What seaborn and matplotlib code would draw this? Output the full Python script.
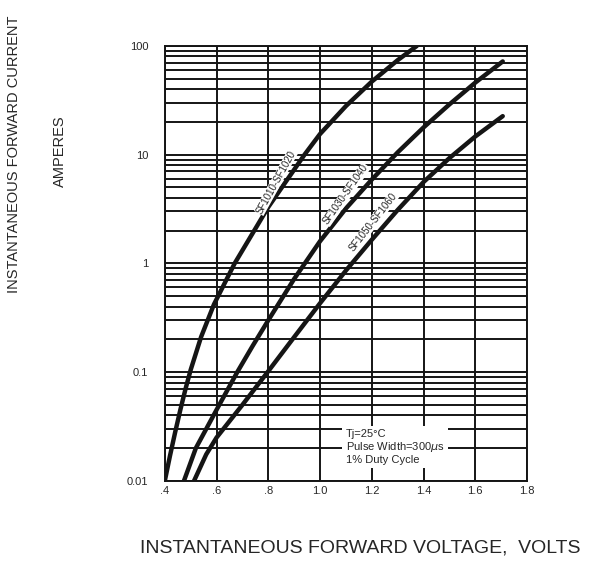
import matplotlib
matplotlib.use("Agg")
import matplotlib.pyplot as plt
import matplotlib.ticker as mticker
import pandas as pd
import seaborn as sns

# forward voltage (V) and current (A)
v_1020 = [0.40, 0.42, 0.44, 0.46, 0.48, 0.50, 0.54, 0.59, 0.67, 0.80, 0.94, 1.00, 1.10, 1.20, 1.30, 1.374]
i_1020 = [0.01, 0.017, 0.028, 0.045, 0.07, 0.105, 0.21, 0.42, 1.0, 3.3, 10.0, 15.5, 28.0, 47.0, 74.0, 100.0]

v_1040 = [0.474, 0.52, 0.60, 0.68, 0.74, 0.80, 0.90, 1.00, 1.10, 1.20, 1.30, 1.40, 1.50, 1.60, 1.706]
i_1040 = [0.01, 0.02, 0.045, 0.10, 0.175, 0.30, 0.72, 1.6, 3.2, 5.9, 10.5, 17.8, 29.0, 46.0, 72.0]

v_1060 = [0.513, 0.56, 0.60, 0.70, 0.80, 0.90, 1.00, 1.10, 1.20, 1.30, 1.40, 1.50, 1.60, 1.706]
i_1060 = [0.01, 0.0175, 0.025, 0.05, 0.102, 0.21, 0.43, 0.86, 1.65, 3.1, 5.6, 9.3, 14.7, 22.6]

names = ["SF1010-SF1020", "SF1030-SF1040", "SF1050-SF1060"]
x_ticks = [0.4, 0.6, 0.8, 1.0, 1.2, 1.4, 1.6, 1.8]
x_labels = [".4", ".6", ".8", "1.0", "1.2", "1.4", "1.6", "1.8"]
y_ticks = [0.01, 0.1, 1, 10, 100]
y_labels = ["0.01", "0.1", "1", "10", "100"]

df = pd.concat([
    pd.DataFrame({"V": v_1020, "I": i_1020, "part": names[0]}),
    pd.DataFrame({"V": v_1040, "I": i_1040, "part": names[1]}),
    pd.DataFrame({"V": v_1060, "I": i_1060, "part": names[2]}),
])

sns.set_style("white")
plt.rcParams["font.family"] = ["Liberation Sans", "DejaVu Sans"]

fig = plt.figure(figsize=(6.15, 5.67), dpi=100)
ax = fig.add_axes([0.268, 0.152, 0.589, 0.767])

sns.lineplot(data=df, x="V", y="I", units="part", estimator=None,
             color="#151515", linewidth=3.2, ax=ax, legend=False, zorder=3)

ax.set_yscale("log")
ax.set_xlim(0.4, 1.8)
ax.set_ylim(0.01, 100)
ax.set_xticks(x_ticks)
ax.set_xticklabels(x_labels)
ax.set_yticks(y_ticks)
ax.set_yticklabels(y_labels)
ax.yaxis.set_minor_locator(mticker.LogLocator(base=10, subs=range(2, 10)))
ax.yaxis.set_minor_formatter(mticker.NullFormatter())
ax.grid(True, which="both", axis="y", color="#151515", linewidth=1.4)
ax.grid(True, which="major", axis="x", color="#151515", linewidth=1.4)
ax.tick_params(which="both", length=0, labelsize=8)
ax.tick_params(axis="y", pad=12)
ax.tick_params(axis="x", pad=4)
for s in ax.spines.values():
    s.set_color("#151515")
    s.set_linewidth(1.4)
ax.set_xlabel("")
ax.set_ylabel("")

# curve labels
lab = dict(fontsize=7, ha="center", va="center", zorder=4,
           bbox=dict(facecolor="white", edgecolor="none", pad=0.3))
ax.text(0.83, 5.6, names[0], rotation=61, **lab)
ax.text(1.10, 4.3, names[1], rotation=55, **lab)
ax.text(1.205, 2.4, names[2], rotation=52, **lab)

ax.text(1.10, 0.0205, "Tj=25°C\nPulse Width=300$\\mu$s\n1% Duty Cycle",
        fontsize=8, ha="left", va="center", linespacing=1.1, zorder=4,
        bbox=dict(facecolor="white", edgecolor="none", pad=2.5))

fig.text(0.023, 0.728, "INSTANTANEOUS FORWARD CURRENT", rotation=90,
         ha="center", va="center", fontsize=10.5)
fig.text(0.098, 0.734, "AMPERES", rotation=90, ha="center", va="center",
         fontsize=10.5)
fig.text(0.585, 0.033, "INSTANTANEOUS FORWARD VOLTAGE,  VOLTS",
         ha="center", va="center", fontsize=14)

fig.savefig("out.png", dpi=100)
